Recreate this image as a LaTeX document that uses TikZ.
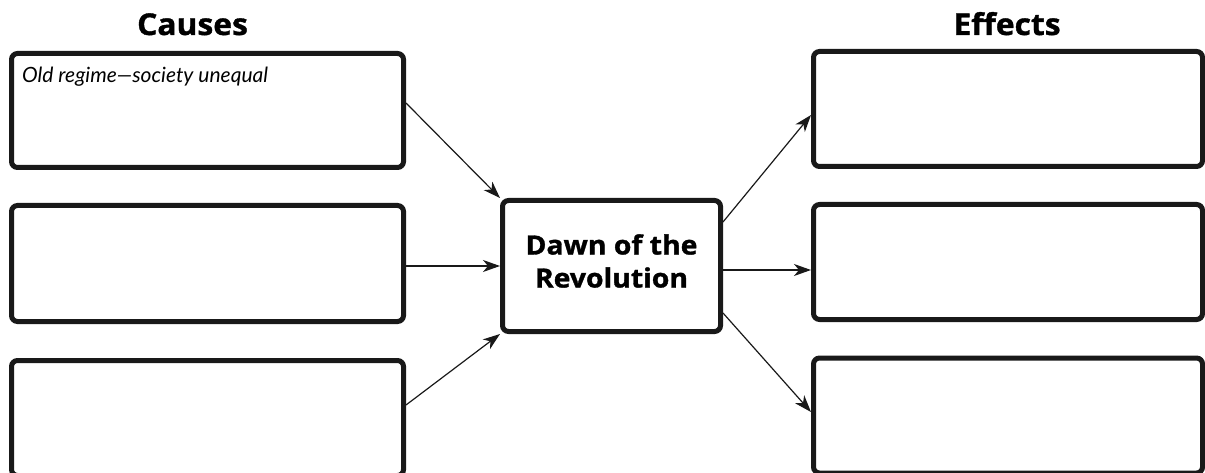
\documentclass[tikz,border=0pt]{standalone}
\usepackage{fontspec}
\setmainfont{Open Sans}[BoldFeatures={FakeBold=1.2}]
\newfontfamily\hand{Lato}
\usetikzlibrary{arrows.meta}
\tikzset{
  box/.style={draw=black!90, line width=5pt, rounded corners=6pt, inner sep=0pt},
  conn/.style={draw=black!90, line width=1.2pt, -{Stealth[length=17pt,width=12pt,inset=5pt]}},
  title/.style={font=\fontsize{30}{32}\selectfont\bfseries, anchor=base, inner sep=0pt},
}
\begin{document}
\begin{tikzpicture}[x=1pt,y=-1pt]
\useasboundingbox (0,0) rectangle (1205,473);
% titles
\node[title, xscale=1.06] (tc) at (192.5,35) {Causes};
\node[title, xscale=1.06] (te) at (1007,35) {Effects};
% cause boxes
\node[box, minimum width=392pt, minimum height=114pt] (c1) at (207.5,110.5) {};
\node[box, minimum width=392pt, minimum height=116pt] (c2) at (207.5,263.5) {};
\node[box, minimum width=392pt, minimum height=115pt] (c3) at (207.5,418) {};
% effect boxes
\node[box, minimum width=389pt, minimum height=115pt] (e1) at (1008,109) {};
\node[box, minimum width=389pt, minimum height=115pt] (e2) at (1008,262) {};
\node[box, minimum width=389pt, minimum height=115pt] (e3) at (1008,415.5) {};
% center
\node[box, minimum width=218pt, minimum height=131pt, inner sep=0pt] (dawn) at (611.5,266) {};
\node[align=center, inner sep=0pt, xscale=1.07, font=\fontsize{26.5}{33}\selectfont\bfseries] (dawnlabel) at (611.5,261) {Dawn of the\\Revolution};
% handwritten text
\node[anchor=base west, inner sep=0pt, font=\hand\itshape\fontsize{21}{24}\selectfont] (t1) at (22,83) {Old regime—society unequal};
% connectors
\draw[conn] (c1.east |- 0,103) -- (dawn.north west);
\draw[conn] (c2.east |- dawn.west) -- (dawn.west);
\draw[conn] (c3.east |- 0,405) -- (dawn.south west);
\draw[conn] (dawn.east |- 0,222) -- (e1.west |- 0,115);
\draw[conn] (dawn.east |- 0,270) -- (e2.west |- 0,270);
\draw[conn] (dawn.east |- 0,313) -- (e3.west |- 0,412);
\end{tikzpicture}
\end{document}
